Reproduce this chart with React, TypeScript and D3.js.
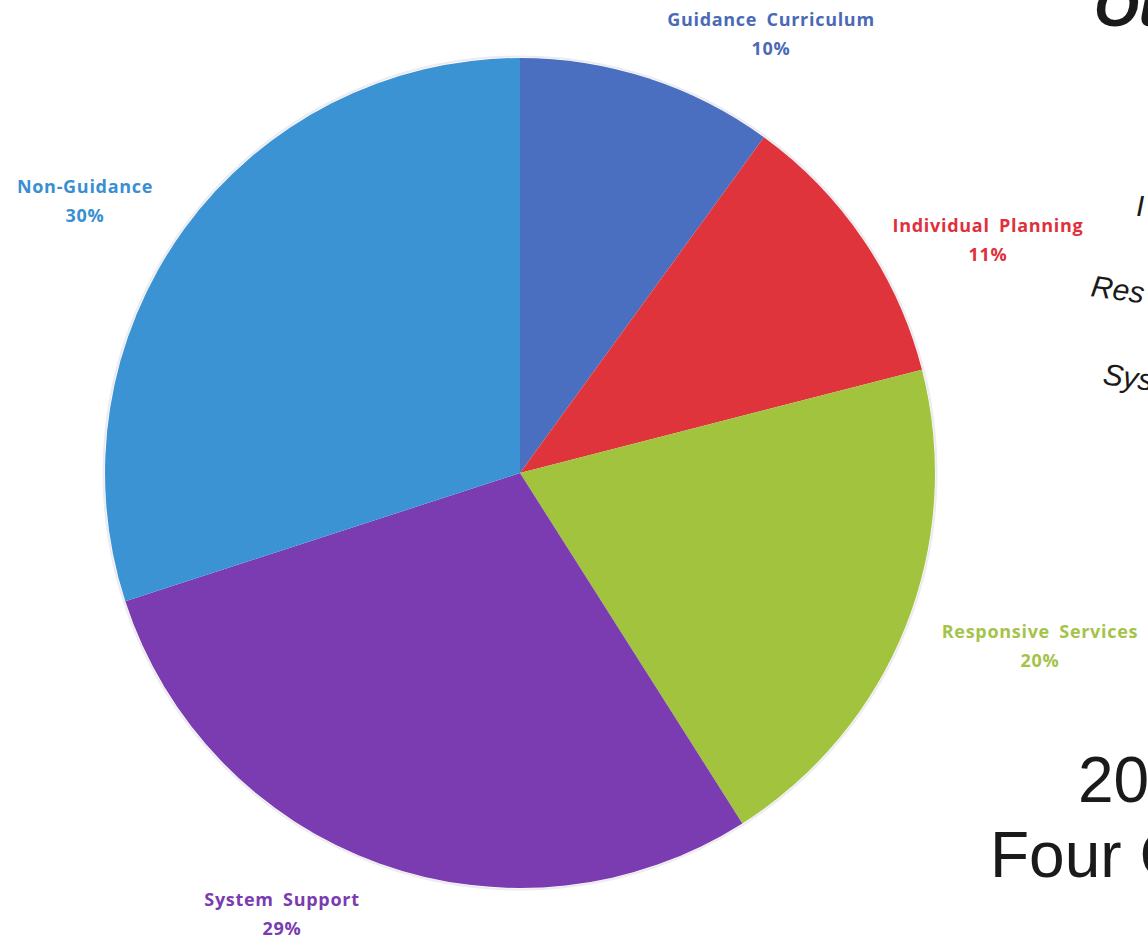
import React from "react";
import * as d3 from "d3";

const categories = [
  "Guidance Curriculum",
  "Individual Planning",
  "Responsive Services",
  "System Support",
  "Non-Guidance",
];
const values = [10, 11, 20, 29, 30];
const percentLabels = ["10%", "11%", "20%", "29%", "30%"];

const sliceColors = ["#4a6fc0", "#e0343c", "#a2c33e", "#7a3cb0", "#3b93d3"];
const labelColors = ["#4a6ab5", "#e0303c", "#a5c34a", "#7a3cb0", "#3a8fd0"];
// label anchor (center of first line), layout only
const labelPos: [number, number][] = [
  [771, 26],
  [988, 232],
  [1040, 638],
  [282, 906],
  [85, 193],
];

const W = 1148;
const H = 942;
const cx = 520;
const cy = 473;
const R = 415;

export default function App() {
  const pie = d3
    .pie<number>()
    .sort(null)
    .value((d) => d);
  const arcs = pie(values);
  const arc = d3.arc<d3.PieArcDatum<number>>().innerRadius(0).outerRadius(R);

  const labelFont = "'Open Sans', 'Noto Sans', sans-serif";
  const bigFont = "'Liberation Sans', Arial, sans-serif";

  return (
    <svg
      width={W}
      height={H}
      style={{ position: "absolute", left: 0, top: 0, background: "#fff" }}
    >
      <rect x={0} y={0} width={W} height={H} fill="#fff" />
      <g transform={`translate(${cx},${cy})`}>
        <circle r={R + 1.5} fill="none" stroke="#ececf0" strokeWidth={2} />
        {arcs.map((a, i) => (
          <path key={categories[i]} d={arc(a) || ""} fill={sliceColors[i]} />
        ))}
      </g>
      {categories.map((c, i) => (
        <text
          key={c}
          x={labelPos[i][0]}
          y={labelPos[i][1]}
          textAnchor="middle"
          fill={labelColors[i]}
          fontFamily={labelFont}
          fontWeight={700}
          fontSize={18}
          letterSpacing={0.7}
          wordSpacing={4}
        >
          <tspan x={labelPos[i][0]} dy={0}>
            {c}
          </tspan>
          <tspan x={labelPos[i][0]} dy={29}>
            {percentLabels[i]}
          </tspan>
        </text>
      ))}
      <g fill="#1a1a1a" fontFamily={bigFont}>
        <text x={1094} y={26} fontSize={58} fontWeight={700} fontStyle="italic">
          Ou
        </text>
        <text x={1136} y={216} fontSize={30} fontStyle="italic">
          I
        </text>
        <text
          x={1090}
          y={296}
          fontSize={30}
          fontStyle="italic"
          transform="rotate(8 1090 296)"
        >
          Res
        </text>
        <text
          x={1102}
          y={384}
          fontSize={30}
          fontStyle="italic"
          transform="rotate(8 1102 384)"
        >
          Sys
        </text>
        <text x={1078} y={802} fontSize={64}>
          20
        </text>
        <text x={990} y={877} fontSize={64}>
          Four C
        </text>
      </g>
    </svg>
  );
}
